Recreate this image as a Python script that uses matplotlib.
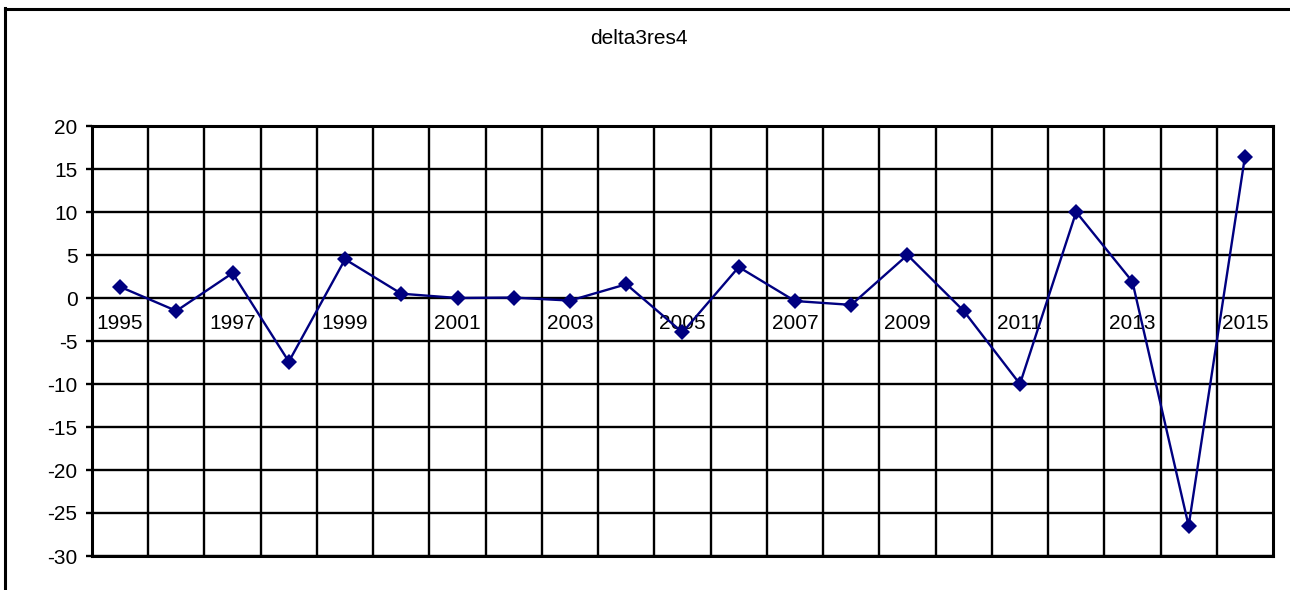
import matplotlib
matplotlib.use("Agg")
import matplotlib.pyplot as plt
from matplotlib.lines import Line2D
from matplotlib.transforms import offset_copy

plt.rcParams["font.family"] = ["Liberation Sans", "DejaVu Sans"]

years = list(range(1995, 2016))
values = [1.3, -1.5, 2.9, -7.4, 4.5, 0.5, 0.0, 0.05, -0.3, 1.6, -4.0,
          3.6, -0.35, -0.8, 5.0, -1.5, -10.0, 10.0, 1.9, -26.5, 16.4]
y_ticks = [20, 15, 10, 5, 0, -5, -10, -15, -20, -25, -30]
title = "delta3res4"

fig = plt.figure(figsize=(12.9, 5.9), dpi=100)
ax = fig.add_axes([92 / 1290, 1 - 556 / 590, (1273 - 92) / 1290, (556 - 126) / 590])

n = len(years)
x = list(range(n))

# category boundaries act as vertical gridlines
for b in range(1, n):
    ax.axvline(b - 0.5, color="black", lw=1.7, zorder=1)
for t in y_ticks:
    ax.axhline(t, color="black", lw=1.7, zorder=1)

ax.plot(x, values, color="#000080", lw=1.7, marker="D", markersize=7.8,
        markeredgewidth=0, zorder=3)

ax.set_xlim(-0.5, n - 0.5)
ax.set_ylim(-30, 20)
ax.set_yticks(y_ticks)
ax.set_yticklabels([str(t) for t in y_ticks])
ax.tick_params(axis="y", length=4.5, width=1.7, pad=6, labelsize=15)
ax.set_xticks([])
for s in ax.spines.values():
    s.set_linewidth(2.2)

# year labels every other category, just under the zero line
lbl_tr = offset_copy(ax.transData, fig=fig, x=0, y=-25, units="dots")
for i, yr in enumerate(years):
    if i % 2 == 0:
        ax.text(i, 0, str(yr), transform=lbl_tr, ha="center", va="center",
                fontsize=15, zorder=2)

fig.text(639 / 1290, 1 - 38 / 590, title, ha="center", va="center", fontsize=15)

# chart frame (top and left edges)
fig.add_artist(Line2D([5 / 1290, 5 / 1290], [0, 1 - 8 / 590], color="black",
                      lw=2.2, transform=fig.transFigure))
fig.add_artist(Line2D([5 / 1290, 1], [1 - 9 / 590, 1 - 9 / 590], color="black",
                      lw=2.2, transform=fig.transFigure))

fig.savefig("out.png", dpi=100, facecolor="white")
